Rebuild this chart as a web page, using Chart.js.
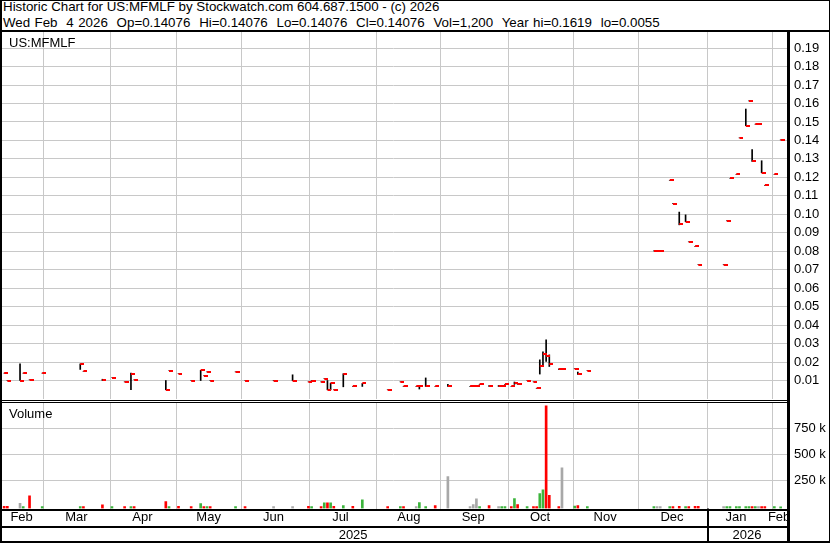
<!DOCTYPE html>
<html>
<head>
<meta charset="utf-8">
<script src="https://cdn.jsdelivr.net/npm/chart.js@4.4.1/dist/chart.umd.min.js"></script>
<style>
  body { margin: 0; background: #fff; }
  #wrap { position: relative; width: 830px; height: 543px; overflow: hidden; background: #fff;
          font-family: Arial, "Liberation Sans", sans-serif; color: #000; }
  canvas { position: absolute; left: 0; }
  .txt { position: absolute; white-space: pre; }
  .hdr { left: 3px; font-size: 13.33px; line-height: 16px; }
  .lbl { font-size: 13px; line-height: 15px; }
  .ln { position: absolute; background: #000; }
</style>
</head>
<body>
<div id="wrap">
  <canvas id="priceChart" width="830" height="368" style="top:32px"></canvas>
  <canvas id="volumeChart" width="830" height="141" style="top:402px"></canvas>

  <div class="txt hdr" style="top:-1px">Historic Chart for US:MFMLF by Stockwatch.com 604.687.1500 - (c) 2026</div>
  <div class="txt hdr" style="top:15px; word-spacing:0.7px">Wed Feb  4 2026  Op=0.14076  Hi=0.14076  Lo=0.14076  Cl=0.14076  Vol=1,200  Year hi=0.1619  lo=0.0055</div>
  <div class="txt lbl" style="left:9px; top:35px">US:MFMLF</div>
  <div class="txt lbl" style="left:9px; top:406px">Volume</div>

  <!-- frame lines -->
  <div class="ln" style="left:0; top:0; width:830px; height:1px"></div>
  <div class="ln" style="left:0; top:0; width:2px; height:543px"></div>
  <div class="ln" style="left:829px; top:0; width:1px; height:543px"></div>
  <div class="ln" style="left:0; top:541px; width:830px; height:2px"></div>
  <div class="ln" style="left:0; top:30px; width:830px; height:2px"></div>
  <div class="ln" style="left:0; top:400px; width:788px; height:1px"></div>
  <div class="ln" style="left:0; top:402px; width:788px; height:1px"></div>
  <div class="ln" style="left:0; top:509px; width:788px; height:2px"></div>
  <div class="ln" style="left:0; top:526px; width:788px; height:2px"></div>
  <div style="position:absolute; left:790px; top:511px; width:39px; height:30px; background:#fff"></div>
  <div class="ln" style="left:787px; top:32px; width:3px; height:511px"></div>
</div>

<script>
// trading-day index of each session shown (0 = early Feb 2025)
const days   = [1, 2, 6, 7, 9, 13, 25, 26, 32, 35, 39, 41, 42, 52, 53, 56, 60, 63, 64, 65, 66, 74, 77, 86, 92,
                97, 98, 101, 102, 103, 104, 105, 108, 111, 114, 122, 126, 127, 131, 132, 134, 137, 141, 148, 149,
                150, 151, 154, 157, 158, 159, 161, 162, 163, 166, 168, 169, 170, 171, 172, 173, 176, 177, 181, 182,
                185, 206, 207, 208, 211, 212, 214, 216, 217, 219, 220, 228, 229, 230, 232, 233, 235, 236, 237, 238,
                239, 240, 241, 244, 246];
const highs  = [0.014, 0.010, 0.019, 0.014, 0.0104, 0.014, 0.019, 0.015, 0.0107, 0.0115, 0.0093, 0.014, 0.0104, 0.010, 0.0153, 0.0137, 0.010, 0.0155, 0.0127, 0.0147, 0.010, 0.0147, 0.010, 0.010, 0.0131,
                0.0093, 0.010, 0.0093, 0.011, 0.010, 0.0086, 0.005, 0.0137, 0.0068, 0.0084, 0.005, 0.0093, 0.0068, 0.0068, 0.0068, 0.0114, 0.0068, 0.0079, 0.0068, 0.0070,
                0.0068, 0.0079, 0.0072, 0.0073, 0.0073, 0.0079, 0.0068, 0.0092, 0.0079, 0.010, 0.0093, 0.0057, 0.0212, 0.0256, 0.032, 0.0239, 0.0163, 0.016, 0.0165, 0.0146,
                0.0154, 0.0802, 0.0802, 0.0802, 0.1183, 0.1058, 0.1012, 0.0997, 0.0851, 0.0826, 0.0728, 0.0728, 0.0965, 0.1194, 0.1216, 0.1414, 0.157, 0.1614, 0.135, 0.1488,
                0.1488, 0.129, 0.1156, 0.1216, 0.1403];
const lows   = [0.014, 0.010, 0.010, 0.014, 0.0104, 0.014, 0.016, 0.015, 0.010, 0.0115, 0.0093, 0.005, 0.0104, 0.005, 0.0153, 0.0137, 0.010, 0.010, 0.0127, 0.0147, 0.010, 0.0147, 0.010, 0.010, 0.010,
                0.0093, 0.010, 0.0093, 0.011, 0.005, 0.005, 0.005, 0.0066, 0.0068, 0.0068, 0.005, 0.0093, 0.0068, 0.0068, 0.0054, 0.0068, 0.0068, 0.0068, 0.0068, 0.0068,
                0.0068, 0.0079, 0.0068, 0.0068, 0.0073, 0.0079, 0.0068, 0.0079, 0.0079, 0.010, 0.0093, 0.0057, 0.0135, 0.0176, 0.0203, 0.0176, 0.016, 0.016, 0.0165, 0.0133,
                0.0154, 0.0802, 0.0802, 0.0802, 0.1183, 0.1058, 0.0943, 0.096, 0.0851, 0.0826, 0.0728, 0.0728, 0.0965, 0.1194, 0.1216, 0.1414, 0.148, 0.1614, 0.1286, 0.1488,
                0.1488, 0.1225, 0.1156, 0.1216, 0.1403];
const closes = [0.014, 0.010, 0.010, 0.014, 0.0104, 0.014, 0.019, 0.015, 0.0104, 0.0115, 0.0093, 0.0137, 0.0104, 0.005, 0.0153, 0.0137, 0.010, 0.0155, 0.0127, 0.0147, 0.010, 0.0147, 0.010, 0.010, 0.010,
                0.0093, 0.010, 0.0093, 0.011, 0.005, 0.0084, 0.005, 0.0133, 0.0068, 0.0084, 0.005, 0.0093, 0.0068, 0.0068, 0.0070, 0.0073, 0.0068, 0.0068, 0.0068, 0.0068,
                0.0068, 0.0079, 0.0068, 0.0068, 0.0073, 0.0079, 0.0068, 0.0089, 0.0079, 0.010, 0.0093, 0.0057, 0.0176, 0.0246, 0.0235, 0.0192, 0.016, 0.016, 0.0165, 0.0133,
                0.0154, 0.0802, 0.0802, 0.0802, 0.1183, 0.1058, 0.0945, 0.096, 0.0851, 0.0826, 0.0728, 0.0728, 0.0965, 0.1194, 0.1216, 0.1414, 0.148, 0.1614, 0.1286, 0.1488,
                0.1488, 0.1225, 0.1156, 0.1216, 0.1403];
const volumes = [5000, 5000, 35000, 4000, 105000, 4000, 4000, 4000, 20000, 4000, 3000, 4000, 4000, 50000, 3000, 5000, 4000, 33000, 4000, 4000, 4000, 4000, 4000, 4000, 4000,
                 5000, 4000, 3000, 40000, 40000, 40000, 5000, 12000, 5000, 67000, 4000, 4000, 4000, 3000, 41000, 4000, 12000, 290000, 4000, 22000,
                 76000, 4000, 12000, 4000, 4000, 4000, 4000, 80000, 22000, 4000, 4000, 4000, 127000, 164000, 963000, 111000, 4000, 372000, 8000, 12000,
                 4000, 4000, 4000, 4000, 4000, 4000, 6000, 4000, 4000, 5000, 6000, 4000, 4000, 4000, 4000, 4000, 4000, 4000, 4000, 4000,
                 4000, 4000, 4000, 4000, 1200];

// axis layout (trading-day units)
const xMin = -0.32, xMax = 248;
const monthStarts = [13.5, 34.7, 55.5, 76, 97.2, 118.5, 138.8, 160, 180.5, 201, 223, 243.5];
const monthLabelPos = [6.5, 23.8, 44.6, 65.5, 86, 107.1, 128.7, 149, 170.1, 190.6, 211.7, 231.9, 245.5];
const monthLabels = ['Feb', 'Mar', 'Apr', 'May', 'Jun', 'Jul', 'Aug', 'Sep', 'Oct', 'Nov', 'Dec', 'Jan', 'Feb'];
const yearStart = 223;
const yearLabelPos = [111.1, 235.4];
const yearLabels = ['2025', '2026'];
const priceTicks = [0.01, 0.02, 0.03, 0.04, 0.05, 0.06, 0.07, 0.08, 0.09, 0.10,
                    0.11, 0.12, 0.13, 0.14, 0.15, 0.16, 0.17, 0.18, 0.19];
const priceMax = 0.1987;
const volumeTicks = [250000, 500000, 750000];
const volumeMax = 1000000;
const volumeFloor = -15000;   // bars reach down to the axis line

const GRID = '#c8c8c8';
Chart.defaults.font.family = 'Arial, "Liberation Sans", sans-serif';
Chart.defaults.font.size = 13;
Chart.defaults.color = '#000';

// red close tick, drawn to the right of the high-low line
function closeTick() {
    const c = document.createElement('canvas');
    c.width = 8; c.height = 2;
    const g = c.getContext('2d');
    g.fillStyle = '#ff0000';
    g.fillRect(4, 0, 4, 2);
    return c;
}

// fixed-size axes, no label overflow padding
function fixSize(w, h) {
    return s => {
        if (w !== null) s.width = w;
        if (h !== null) s.height = h;
        s.paddingLeft = s.paddingRight = s.paddingTop = s.paddingBottom = 0;
    };
}

const gridX = {
    type: 'linear', min: xMin, max: xMax, offset: false,
    grid: { display: true, drawOnChartArea: true, color: GRID, lineWidth: 1, drawTicks: false, offset: false },
    border: { display: false },
    ticks: { display: false },
    afterBuildTicks: s => { s.ticks = monthStarts.map(v => ({ value: v })); },
    afterFit: fixSize(null, 0)
};

new Chart(document.getElementById('priceChart'), {
    type: 'bar',
    data: {
        datasets: [{
            type: 'line',
            data: days.map((d, i) => ({ x: d, y: closes[i] })),
            showLine: false,
            pointStyle: closeTick(),
            pointRadius: 3,
            order: 0
        }, {
            type: 'bar',
            data: days.map((d, i) => ({ x: d, y: [lows[i], highs[i]] })),
            backgroundColor: '#000',
            barThickness: 1,
            grouped: false,
            order: 1
        }]
    },
    options: {
        responsive: false,
        animation: false,
        events: [],
        layout: { autoPadding: false, padding: { left: 0, right: 0, top: 0, bottom: 1 } },
        plugins: { legend: { display: false }, tooltip: { enabled: false } },
        scales: {
            x: gridX,
            y: {
                position: 'right', min: 0, max: priceMax,
                grid: { display: true, drawOnChartArea: true, color: GRID, lineWidth: 1, drawTicks: false },
                border: { display: false },
                ticks: { padding: 7, callback: v => v.toFixed(2) },
                afterBuildTicks: s => { s.ticks = priceTicks.map(v => ({ value: v })); },
                afterFit: fixSize(43, null)
            }
        }
    }
});

// green = close up, red = close down, gray = unchanged
const volColors = closes.map((c, i) => {
    if (i === 0 || c < closes[i - 1]) return '#ff0000';
    if (c > closes[i - 1]) return '#3cb43c';
    return '#a8a8a8';
});

const yearDivider = {
    id: 'yearDivider',
    afterDraw(chart) {
        const px = chart.scales.x.getPixelForValue(yearStart);
        const ctx = chart.ctx;
        ctx.save();
        ctx.fillStyle = '#000';
        ctx.fillRect(Math.round(px) - 1, chart.scales.xm.top, 2, chart.scales.xy.bottom - chart.scales.xm.top);
        ctx.restore();
    }
};

new Chart(document.getElementById('volumeChart'), {
    type: 'bar',
    data: {
        datasets: [{
            data: days.map((d, i) => ({ x: d, y: volumes[i] })),
            backgroundColor: volColors,
            barThickness: 2,
            base: volumeFloor,
            grouped: false
        }]
    },
    options: {
        responsive: false,
        animation: false,
        events: [],
        layout: { autoPadding: false, padding: { left: 0, right: 0, top: 0, bottom: 2 } },
        plugins: { legend: { display: false }, tooltip: { enabled: false } },
        scales: {
            x: Object.assign({}, gridX, { weight: 0 }),
            xm: {
                type: 'linear', axis: 'x', position: 'bottom', weight: 1,
                min: xMin, max: xMax, offset: false,
                grid: { display: false, drawTicks: false },
                border: { display: false },
                ticks: { autoSkip: false, maxRotation: 0, padding: 1.5, callback: (v, i) => monthLabels[i] },
                afterBuildTicks: s => { s.ticks = monthLabelPos.map(v => ({ value: v })); },
                afterFit: fixSize(null, 18)
            },
            xy: {
                type: 'linear', axis: 'x', position: 'bottom', weight: 2,
                min: xMin, max: xMax, offset: false,
                grid: { display: false, drawTicks: false },
                border: { display: false },
                ticks: { autoSkip: false, maxRotation: 0, padding: 1, callback: (v, i) => yearLabels[i] },
                afterBuildTicks: s => { s.ticks = yearLabelPos.map(v => ({ value: v })); },
                afterFit: fixSize(null, 14.5)
            },
            y: {
                position: 'right', min: volumeFloor, max: volumeMax,
                grid: { display: true, drawOnChartArea: true, color: GRID, lineWidth: 1, drawTicks: false },
                border: { display: false },
                ticks: { padding: 7, callback: v => (v / 1000) + ' k' },
                afterBuildTicks: s => { s.ticks = volumeTicks.map(v => ({ value: v })); },
                afterFit: fixSize(43, null)
            }
        }
    },
    plugins: [yearDivider]
});
</script>
</body>
</html>
